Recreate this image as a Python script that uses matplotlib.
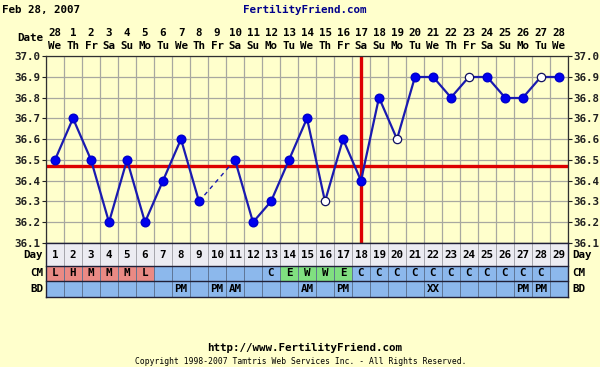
"""Fertility chart (BBT) recreation"""
import matplotlib
matplotlib.use('Agg')
import matplotlib.pyplot as plt
from matplotlib.patches import Rectangle

# ---- data ----
days = list(range(1, 30))
dates = ['28'] + [str(d) for d in range(1, 29)]
weekdays = ['We', 'Th', 'Fr', 'Sa', 'Su', 'Mo', 'Tu'] * 4 + ['We']
temps = [36.5, 36.7, 36.5, 36.2, 36.5, 36.2, 36.4, 36.6, 36.3, None,
         36.5, 36.2, 36.3, 36.5, 36.7, 36.3, 36.6, 36.4, 36.8, 36.6,
         36.9, 36.9, 36.8, 36.9, 36.9, 36.8, 36.8, 36.9, 36.9]
open_days = [16, 20, 24, 28]
coverline = 36.47
ovulation_day = 18
cm = ['L', 'H', 'M', 'M', 'M', 'L', '', '', '', '', '', '', 'C', 'E', 'W',
      'W', 'E', 'C', 'C', 'C', 'C', 'C', 'C', 'C', 'C', 'C', 'C', 'C', '']
bd = ['', '', '', '', '', '', '', 'PM', '', 'PM', 'AM', '', '', '', 'AM',
      '', 'PM', '', '', '', '', 'XX', '', '', '', '', 'PM', 'PM', '']
yticks = [36.1, 36.2, 36.3, 36.4, 36.5, 36.6, 36.7, 36.8, 36.9, 37.0]

W, H = 600, 367
BG = '#ffffcc'
FONT = 'DejaVu Sans Mono'
FS = 7.8


def fx(x):
    return x / W


def fy(y):
    return 1 - y / H


fig = plt.figure(figsize=(6, 3.67), dpi=100, facecolor=BG)

# plot area in pixels
L, R, T, B = 46, 568, 56, 243
ax = fig.add_axes([fx(L), fy(B), fx(R - L), (B - T) / H])
ax.set_facecolor(BG)
ax.set_xlim(0.5, 29.5)
ax.set_ylim(36.1, 37.0)
ax.set_xticks([d + 0.5 for d in range(0, 30)])
ax.set_xticklabels([])
ax.set_yticks(yticks)
ax.set_yticklabels(['%.1f' % v for v in yticks])
ax.tick_params(axis='x', length=0)
ax.tick_params(axis='y', length=3, labelleft=True, labelright=True,
               left=True, right=True, labelsize=FS, pad=1, colors='#202020')
for lbl in ax.get_yticklabels():
    lbl.set_fontfamily(FONT)
    lbl.set_fontweight('bold')
ax.grid(True, color='#a8a8a0', lw=0.9)
ax.set_axisbelow(True)
for s in ax.spines.values():
    s.set_color('#303030')
    s.set_linewidth(0.9)

# coverline and ovulation line
ax.axhline(coverline, color='#dd0000', lw=2.4, zorder=2)
ax.axvline(ovulation_day, color='#dd0000', lw=2.4, zorder=2)

# temperature line: solid segments between consecutive days, dashed over gaps
line_color = '#1a1ab0'
prev = None
for d, t in zip(days, temps):
    if t is None:
        continue
    if prev is not None:
        pd_, pt = prev
        ls = '-' if d - pd_ == 1 else (0, (3, 3))
        lw = 1.6 if d - pd_ == 1 else 1.0
        ax.plot([pd_, d], [pt, t], color=line_color, lw=lw, ls=ls, zorder=3)
    prev = (d, t)

fill_x = [d for d, t in zip(days, temps) if t is not None and d not in open_days]
fill_y = [t for d, t in zip(days, temps) if t is not None and d not in open_days]
open_x = [d for d in open_days]
open_y = [temps[d - 1] for d in open_days]
ax.plot(fill_x, fill_y, 'o', ms=6.2, color='#0000ee', mec='#0000cc', zorder=4)
ax.plot(open_x, open_y, 'o', ms=6, mfc='white', mec='#101060', mew=0.9, zorder=4)

# header texts
txt = dict(fontfamily=FONT, fontweight='bold', fontsize=FS, color='black')
fig.text(fx(2), fy(10), 'Feb 28, 2007', ha='left', va='center', **txt)
fig.text(fx(305), fy(10), 'FertilityFriend.com', ha='center', va='center',
         fontfamily=FONT, fontweight='bold', fontsize=FS, color='#00008b')
fig.text(fx(43), fy(38), 'Date', ha='right', va='center', **txt)
for d, ds, wd in zip(days, dates, weekdays):
    xc = L + (d - 0.5) * (R - L) / 29
    fig.text(fx(xc), fy(33), ds, ha='center', va='center', **txt)
    fig.text(fx(xc), fy(46), wd, ha='center', va='center', **txt)

# chart table below the plot
TB = 297
tab = fig.add_axes([fx(L), fy(TB), fx(R - L), (TB - B) / H])
tab.set_xlim(0.5, 29.5)
tab.set_ylim(TB - B, 0)
tab.axis('off')
rows = [(0, 23), (23, 38), (38, 54)]
pink, green, blue, grey = '#ea8a84', '#80e080', '#8cb8ec', '#ececf2'
for i, d in enumerate(days):
    c = cm[i]
    if c in ('L', 'H', 'M'):
        cmcol = pink
    elif c in ('E', 'W'):
        cmcol = green
    else:
        cmcol = blue
    for (y0, y1), col, ec in zip(rows, [grey, cmcol, blue],
                                 ['#a0a0a8', '#5a7090', '#5a7090']):
        tab.add_patch(Rectangle((d - 0.5, y0), 1, y1 - y0, fc=col, ec=ec, lw=0.6))
    tab.text(d, 11.5, str(d), ha='center', va='center', **txt)
    tab.text(d, 30.5, c, ha='center', va='center', **txt)
    tab.text(d, 46, bd[i], ha='center', va='center', **txt)
for y in (0, 23, 38, 54):
    tab.plot([0.5, 29.5], [y, y], color='#202038', lw=1.0, clip_on=False)
tab.plot([0.5, 0.5], [0, 54], color='#202038', lw=1.0, clip_on=False)
tab.plot([29.5, 29.5], [0, 54], color='#202038', lw=1.0, clip_on=False)

for name, yc in (('Day', B + 12), ('CM', B + 30.5), ('BD', B + 46)):
    fig.text(fx(43), fy(yc), name, ha='right', va='center', **txt)
    fig.text(fx(572), fy(yc), name, ha='left', va='center', **txt)

# footer
fig.text(fx(305), fy(348), 'http://www.FertilityFriend.com', ha='center',
         va='center', **txt)
fig.text(fx(301), fy(362),
         'Copyright 1998-2007 Tamtris Web Services Inc. - All Rights Reserved.',
         ha='center', va='center', fontfamily=FONT, fontsize=5.8, color='black')

fig.savefig('out.png', dpi=100, facecolor=BG)
